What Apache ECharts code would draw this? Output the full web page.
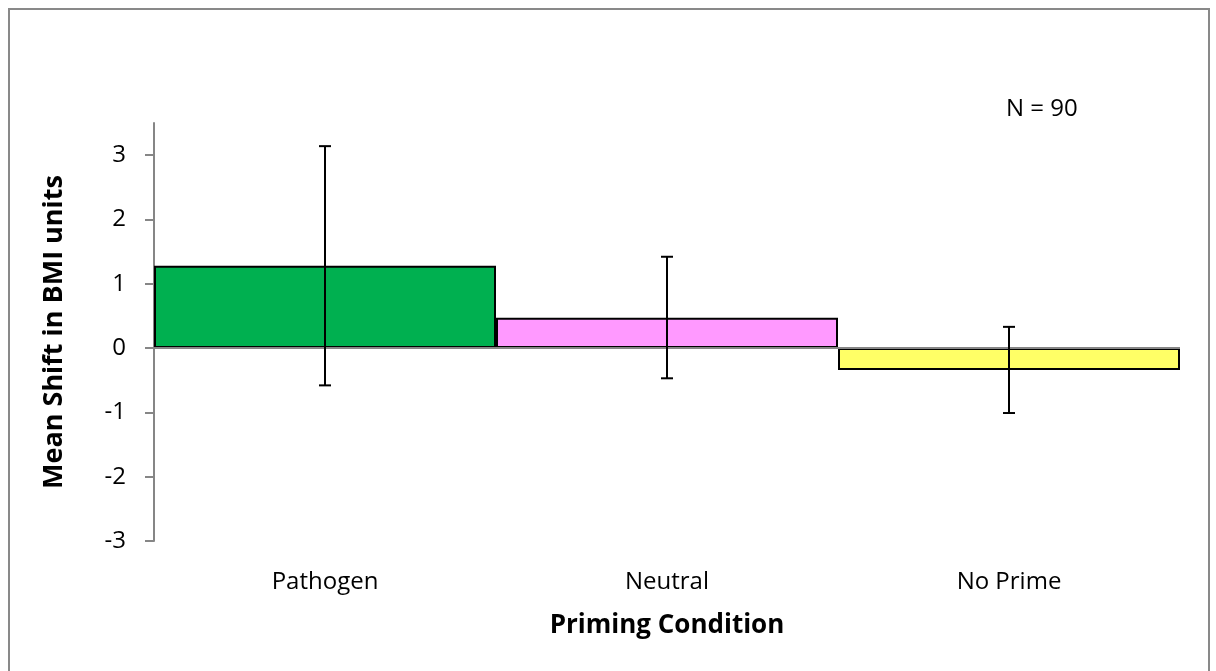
<!DOCTYPE html>
<html>
<head>
<meta charset="utf-8">
<script src="https://cdn.jsdelivr.net/npm/echarts@6/dist/echarts.min.js"></script>
<style>
html,body{margin:0;padding:0;background:#fff;}
#c{width:1216px;height:671px;}
</style>
</head>
<body>
<div id="c"></div>
<script>
const categories = ['Pathogen', 'Neutral', 'No Prime'];
const means = [1.28, 0.47, -0.34];
const errLow = [-0.58, -0.47, -1.01];
const errHigh = [3.14, 1.42, 0.33];
const barColors = ['#00B050', '#FF99FF', '#FFFF66'];
const yTicks = [-3, -2, -1, 0, 1, 2, 3];
const noteText = 'N = 90';

const FONT = '"Open Sans", sans-serif';
const chart = echarts.init(document.getElementById('c'));

chart.setOption({
  backgroundColor: '#fff',
  animation: false,
  graphic: [
    { type: 'rect', shape: { x: 9, y: 9, width: 1200, height: 700 },
      style: { fill: 'none', stroke: '#898989', lineWidth: 2 }, silent: true, z: -1 },
    { type: 'text', left: 1006, top: 97,
      style: { text: noteText, font: '24px ' + FONT, fill: '#000' } }
  ],
  grid: { left: 154, right: 36, top: 123, bottom: 130 },
  xAxis: {
    type: 'category',
    data: categories,
    position: 'bottom',
    axisLine: { show: false },
    axisTick: { show: false },
    axisLabel: { margin: 29, fontFamily: FONT, fontSize: 24, color: '#000' },
    name: 'Priming Condition',
    nameLocation: 'middle',
    nameGap: 72,
    nameTextStyle: { fontFamily: FONT, fontSize: 26, fontWeight: 'bold', color: '#000' }
  },
  yAxis: {
    type: 'value',
    min: -3,
    max: 3.5,
    interval: 1,
    splitLine: { show: false },
    axisLine: { show: true, onZero: false, lineStyle: { color: '#868686', width: 2 } },
    axisTick: { show: true, length: 9, customValues: yTicks, lineStyle: { color: '#868686', width: 2 } },
    axisLabel: { margin: 28, fontFamily: FONT, fontSize: 24, color: '#000', customValues: yTicks },
    name: 'Mean Shift in BMI units',
    nameLocation: 'middle',
    nameGap: 86,
    nameTextStyle: { fontFamily: FONT, fontSize: 27, fontWeight: 'bold', color: '#000' }
  },
  series: [
    {
      type: 'bar',
      data: means.map((v, i) => ({ value: v, itemStyle: { color: barColors[i] } })),
      barCategoryGap: '0%',
      itemStyle: { borderColor: '#000', borderWidth: 2 },
      markLine: {
        silent: true,
        symbol: 'none',
        label: { show: false },
        lineStyle: { color: '#868686', width: 2, type: 'solid' },
        data: [{ yAxis: 0 }],
        z: 5
      },
      z: 2
    },
    {
      type: 'custom',
      data: categories.map((c, i) => [i, errLow[i], errHigh[i]]),
      z: 10,
      renderItem: function (params, api) {
        const x = api.value(0);
        const lo = api.coord([x, api.value(1)]);
        const hi = api.coord([x, api.value(2)]);
        const hw = 6;
        const st = { stroke: '#000', lineWidth: 2 };
        return {
          type: 'group',
          children: [
            { type: 'line', shape: { x1: hi[0], y1: hi[1], x2: lo[0], y2: lo[1] }, style: st },
            { type: 'line', shape: { x1: hi[0] - hw, y1: hi[1], x2: hi[0] + hw, y2: hi[1] }, style: st },
            { type: 'line', shape: { x1: lo[0] - hw, y1: lo[1], x2: lo[0] + hw, y2: lo[1] }, style: st }
          ]
        };
      }
    }
  ]
});
</script>
</body>
</html>
